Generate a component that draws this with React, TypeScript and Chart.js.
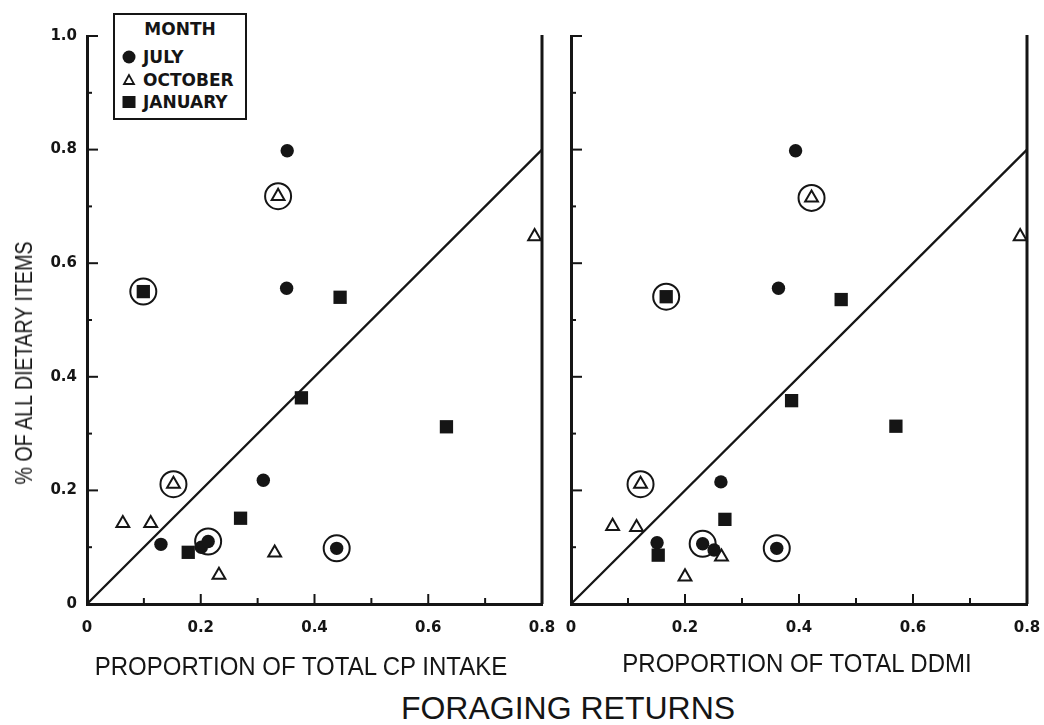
import React, { useEffect, useRef } from "react";
import { Chart, registerables } from "chart.js";

Chart.register(...registerables);

const INK = "#151515";

// ---- axis tick values & labels ----
const X_TICK_VALUES = [0, 0.2, 0.4, 0.6, 0.8];
const X_TICK_LABELS = ["0", "0.2", "0.4", "0.6", "0.8"];
const Y_TICK_VALUES = [0, 0.2, 0.4, 0.6, 0.8, 1.0];
const Y_TICK_LABELS = ["0", "0.2", "0.4", "0.6", "0.8", "1.0"];
const X_MARKS = [0.1, 0.2, 0.3, 0.4, 0.5, 0.6, 0.7];
const X_MARK_MAJOR = [false, true, false, true, false, true, false];
const Y_MARKS = [0.1, 0.2, 0.3, 0.4, 0.5, 0.6, 0.7, 0.8, 0.9, 1.0];
const Y_MARK_MAJOR = [false, true, false, true, false, true, false, true, false, true];

// ---- reference line (1:1) ----
const REF_X = [0, 0.8];
const REF_Y = [0, 0.8];

// ---- left panel: proportion of total CP intake ----
const CP_JULY_X = [0.352, 0.351, 0.31, 0.13, 0.201, 0.213, 0.439];
const CP_JULY_Y = [0.798, 0.556, 0.218, 0.105, 0.1, 0.11, 0.098];
const CP_OCT_X = [0.336, 0.787, 0.152, 0.063, 0.112, 0.33, 0.232];
const CP_OCT_Y = [0.718, 0.647, 0.211, 0.142, 0.142, 0.09, 0.051];
const CP_JAN_X = [0.099, 0.445, 0.377, 0.632, 0.27, 0.178];
const CP_JAN_Y = [0.55, 0.54, 0.363, 0.312, 0.151, 0.091];
const CP_RING_X = [0.336, 0.152, 0.099, 0.213, 0.439];
const CP_RING_Y = [0.718, 0.211, 0.55, 0.11, 0.098];

// ---- right panel: proportion of total DDMI ----
const DD_JULY_X = [0.394, 0.364, 0.263, 0.151, 0.231, 0.251, 0.361];
const DD_JULY_Y = [0.798, 0.556, 0.215, 0.108, 0.106, 0.095, 0.098];
const DD_OCT_X = [0.422, 0.788, 0.122, 0.073, 0.115, 0.264, 0.2];
const DD_OCT_Y = [0.715, 0.647, 0.211, 0.137, 0.135, 0.083, 0.048];
const DD_JAN_X = [0.167, 0.474, 0.387, 0.57, 0.27, 0.153];
const DD_JAN_Y = [0.541, 0.536, 0.358, 0.313, 0.149, 0.086];
const DD_RING_X = [0.422, 0.122, 0.167, 0.231, 0.361];
const DD_RING_Y = [0.715, 0.211, 0.541, 0.106, 0.098];

const zip = (xs: number[], ys: number[]) => xs.map((x, i) => ({ x, y: ys[i] }));

const TICK_FONT = { family: "'DejaVu Sans', sans-serif", size: 15, weight: "bold" as const };

const axisMarks = {
  id: "axisMarks",
  beforeDatasetsDraw(chart: any) {
    const { ctx, chartArea: a, scales } = chart;
    const xs = scales.x;
    const ys = scales.y;
    ctx.save();
    ctx.strokeStyle = INK;
    ctx.lineCap = "butt";
    ctx.lineWidth = 3;
    ctx.beginPath();
    ctx.moveTo(a.right, a.top - 1);
    ctx.lineTo(a.right, a.bottom);
    ctx.stroke();
    ctx.lineWidth = 2;
    X_MARKS.forEach((v, i) => {
      const px = xs.getPixelForValue(v);
      const len = X_MARK_MAJOR[i] ? 10 : 6;
      ctx.beginPath();
      ctx.moveTo(px, a.bottom);
      ctx.lineTo(px, a.bottom - len);
      ctx.stroke();
    });
    Y_MARKS.forEach((v, i) => {
      const py = ys.getPixelForValue(v);
      const len = Y_MARK_MAJOR[i] ? 11 : 5;
      ctx.beginPath();
      ctx.moveTo(a.left, py);
      ctx.lineTo(a.left + len, py);
      ctx.stroke();
    });
    ctx.restore();
  },
};

function buildConfig(
  p: { jx: number[]; jy: number[]; ox: number[]; oy: number[]; nx: number[]; ny: number[]; rx: number[]; ry: number[] },
  showYLabels: boolean,
  yAxisWidth: number,
  rightPad: number,
  canvasH: number
): any {
  return {
    type: "scatter",
    data: {
      datasets: [
        {
          label: "1:1",
          data: zip(REF_X, REF_Y),
          showLine: true,
          borderColor: INK,
          borderWidth: 2.3,
          pointRadius: 0,
          order: 6,
          clip: false,
        },
        {
          label: "JULY",
          data: zip(p.jx, p.jy),
          pointStyle: "circle",
          pointRadius: 6.7,
          backgroundColor: INK,
          borderColor: INK,
          borderWidth: 0,
          order: 4,
          clip: false,
        },
        {
          label: "JANUARY",
          data: zip(p.nx, p.ny),
          pointStyle: "rect",
          pointRadius: 9.4,
          backgroundColor: INK,
          borderColor: INK,
          borderWidth: 0,
          order: 3,
          clip: false,
        },
        {
          label: "OCTOBER",
          data: zip(p.ox, p.oy),
          pointStyle: "triangle",
          pointRadius: 7.4,
          backgroundColor: "#ffffff",
          borderColor: INK,
          borderWidth: 2,
          order: 2,
          clip: false,
        },
        {
          label: "circled",
          data: zip(p.rx, p.ry),
          pointStyle: "circle",
          pointRadius: 13,
          backgroundColor: "rgba(0,0,0,0)",
          borderColor: INK,
          borderWidth: 2,
          order: 1,
          clip: false,
        },
      ],
    },
    options: {
      responsive: false,
      animation: false,
      events: [],
      layout: { padding: { top: 36, right: rightPad, bottom: 0, left: 0 } },
      plugins: { legend: { display: false }, tooltip: { enabled: false }, title: { display: false } },
      scales: {
        x: {
          type: "linear",
          min: 0,
          max: 0.8,
          afterBuildTicks: (s: any) => {
            s.ticks = X_TICK_VALUES.map((v) => ({ value: v }));
          },
          ticks: {
            callback: (_v: any, i: number) => X_TICK_LABELS[i],
            font: TICK_FONT,
            color: INK,
            padding: 15,
            maxRotation: 0,
            autoSkip: false,
          },
          grid: { display: false, drawTicks: false },
          border: { display: true, color: INK, width: 3 },
          afterFit: (s: any) => {
            s.height = canvasH - 604;
          },
        },
        y: {
          type: "linear",
          min: 0,
          max: 1,
          afterBuildTicks: (s: any) => {
            s.ticks = Y_TICK_VALUES.map((v) => ({ value: v }));
          },
          ticks: {
            display: showYLabels,
            callback: (_v: any, i: number) => Y_TICK_LABELS[i],
            font: TICK_FONT,
            color: INK,
            padding: 10,
            autoSkip: false,
          },
          grid: { display: false, drawTicks: false },
          border: { display: true, color: INK, width: 3 },
          afterFit: (s: any) => {
            s.width = yAxisWidth;
          },
        },
      },
    },
    plugins: [axisMarks],
  };
}

const LEGEND_ITEMS = [
  { label: "JULY", shape: "circle", cy: 56.5 },
  { label: "OCTOBER", shape: "triangle", cy: 79.5 },
  { label: "JANUARY", shape: "square", cy: 101.5 },
];

const titleFont = "'Liberation Sans', Arial, sans-serif";
const boldFont = "'DejaVu Sans', sans-serif";

function Symbol({ shape, cy }: { shape: string; cy: number }) {
  const style: React.CSSProperties = { position: "absolute", left: 121, top: cy - 8, width: 16, height: 16 };
  if (shape === "circle")
    return (
      <svg style={style} width={16} height={16}>
        <circle cx={8} cy={8} r={6.5} fill={INK} />
      </svg>
    );
  if (shape === "triangle")
    return (
      <svg style={style} width={16} height={16}>
        <polygon points="8,3 3,12 13,12" fill="#fff" stroke={INK} strokeWidth={1.8} />
      </svg>
    );
  return (
    <svg style={style} width={16} height={16}>
      <rect x={1.5} y={2} width={13} height={12} fill={INK} />
    </svg>
  );
}

export default function App() {
  const leftRef = useRef<HTMLCanvasElement>(null);
  const rightRef = useRef<HTMLCanvasElement>(null);

  useEffect(() => {
    const c1 = new Chart(
      leftRef.current as HTMLCanvasElement,
      buildConfig(
        { jx: CP_JULY_X, jy: CP_JULY_Y, ox: CP_OCT_X, oy: CP_OCT_Y, nx: CP_JAN_X, ny: CP_JAN_Y, rx: CP_RING_X, ry: CP_RING_Y },
        true,
        87,
        30,
        690
      )
    );
    const c2 = new Chart(
      rightRef.current as HTMLCanvasElement,
      buildConfig(
        { jx: DD_JULY_X, jy: DD_JULY_Y, ox: DD_OCT_X, oy: DD_OCT_Y, nx: DD_JAN_X, ny: DD_JAN_Y, rx: DD_RING_X, ry: DD_RING_Y },
        false,
        23,
        30,
        690
      )
    );
    return () => {
      c1.destroy();
      c2.destroy();
    };
  }, []);

  const centered = (x: number, y: number, size: number, sx: number): React.CSSProperties => ({
    position: "absolute",
    left: x,
    top: y,
    transform: `translate(-50%, -50%) scaleX(${sx})`,
    whiteSpace: "nowrap",
    fontFamily: titleFont,
    fontSize: size,
    lineHeight: 1,
    color: INK,
  });

  return (
    <div style={{ position: "absolute", left: 0, top: 0, width: 1044, height: 725, background: "#fff", overflow: "hidden" }}>
      <canvas ref={leftRef} width={572} height={690} style={{ position: "absolute", left: 0, top: 0 }} />
      <canvas ref={rightRef} width={509} height={690} style={{ position: "absolute", left: 548, top: 0 }} />

      {/* legend */}
      <div
        style={{
          position: "absolute",
          left: 113,
          top: 13,
          width: 134,
          height: 107,
          boxSizing: "border-box",
          border: `2px solid ${INK}`,
          background: "#fff",
        }}
      />
      <div
        style={{
          position: "absolute",
          left: 180,
          top: 29,
          transform: "translate(-50%, -50%)",
          fontFamily: boldFont,
          fontWeight: "bold",
          fontSize: 17,
          lineHeight: 1,
          color: INK,
          whiteSpace: "nowrap",
        }}
      >
        MONTH
      </div>
      {LEGEND_ITEMS.map((it) => (
        <React.Fragment key={it.label}>
          <Symbol shape={it.shape} cy={it.cy} />
          <div
            style={{
              position: "absolute",
              left: 143,
              top: it.cy,
              transform: "translateY(-50%)",
              fontFamily: boldFont,
              fontWeight: "bold",
              fontSize: 17,
              lineHeight: 1,
              color: INK,
              whiteSpace: "nowrap",
            }}
          >
            {it.label}
          </div>
        </React.Fragment>
      ))}

      {/* axis titles */}
      <div
        style={{
          position: "absolute",
          left: 24,
          top: 363,
          transform: "translate(-50%, -50%) rotate(-90deg) scaleX(0.82)",
          whiteSpace: "nowrap",
          fontFamily: titleFont,
          fontSize: 24,
          lineHeight: 1,
          color: INK,
        }}
      >
        % OF ALL DIETARY ITEMS
      </div>
      <div style={centered(301, 666, 25, 0.96)}>PROPORTION OF TOTAL CP INTAKE</div>
      <div style={centered(797, 663, 25, 0.96)}>PROPORTION OF TOTAL DDMI</div>
      <div style={centered(568, 708, 32, 1)}>FORAGING RETURNS</div>
    </div>
  );
}
